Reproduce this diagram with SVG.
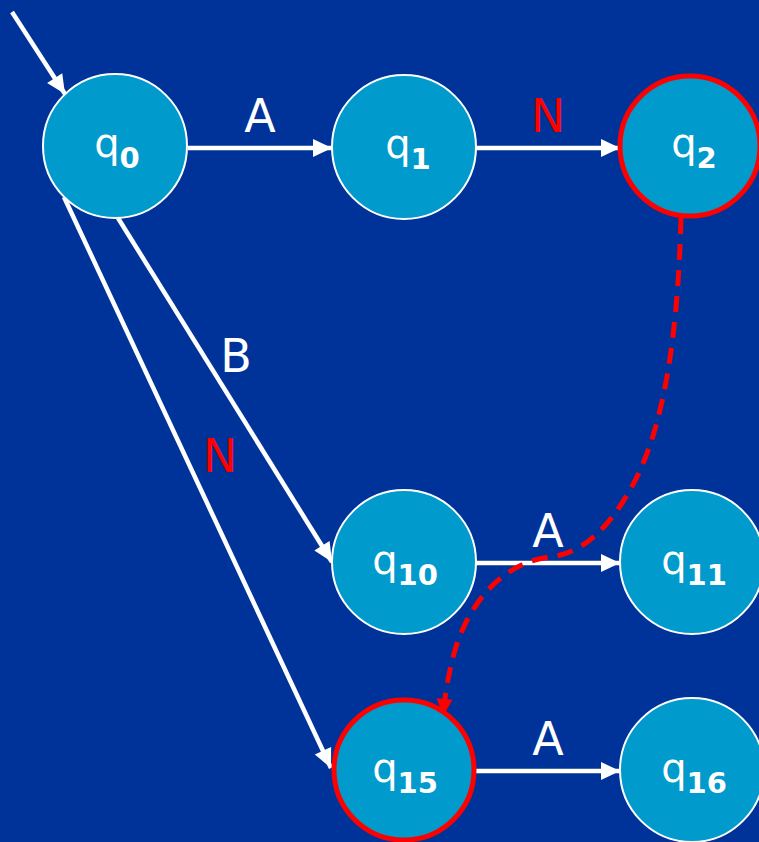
<svg xmlns="http://www.w3.org/2000/svg" width="759" height="842" viewBox="0 0 759 842">
<style>
.node{fill:#009acc;stroke:#ffffff;stroke-width:2}
.final{fill:#009acc;stroke:#ff0000;stroke-width:5}
.lbl{font-family:"DejaVu Sans","Liberation Sans",sans-serif;font-size:40px;fill:#ffffff;text-anchor:middle}
.sub{font-weight:bold;font-size:29px}
.edge{stroke:#ffffff;stroke-width:4.5;fill:none}
.dash{stroke:#ff0000;stroke-width:5;fill:none;stroke-dasharray:16 10}
.el{font-family:"DejaVu Sans","Liberation Sans",sans-serif;font-size:46px;text-anchor:middle}
.w{fill:#ffffff}
.r{fill:#ff0000}
</style>
<defs>
<marker id="arr" markerUnits="userSpaceOnUse" markerWidth="20" markerHeight="18" refX="19" refY="9" orient="auto" overflow="visible">
<path d="M0,0 L19,9 L0,18 Z" fill="#ffffff"/>
</marker>
<marker id="arrR" markerUnits="userSpaceOnUse" markerWidth="18" markerHeight="16" refX="17" refY="8" orient="auto" overflow="visible">
<path d="M0,0 L17,8 L0,16 Z" fill="#ff0000"/>
</marker>
</defs>
<rect width="759" height="842" fill="#003399"/>
<g id="connectors">
<line class="edge" x1="12" y1="12" x2="65" y2="94" marker-end="url(#arr)"/>
<line class="edge" x1="188" y1="148" x2="332" y2="148" marker-end="url(#arr)"/>
<line class="edge" x1="476" y1="148" x2="620" y2="148" marker-end="url(#arr)"/>
<line class="edge" x1="118" y1="218" x2="332" y2="562" marker-end="url(#arr)"/>
<line class="edge" x1="64" y1="197" x2="331" y2="768" marker-end="url(#arr)"/>
<line class="edge" x1="476" y1="563" x2="620" y2="563" marker-end="url(#arr)"/>
<line class="edge" x1="476" y1="771" x2="620" y2="771" marker-end="url(#arr)"/>
<path class="dash" d="M681,218 C678,330 665,430 630,490 C610,525 585,553 550,557 C505,562 470,600 455,650 C448,675 445,695 443,716" marker-end="url(#arrR)"/>
<text class="el w" x="260" y="132">A</text>
<text class="el r" x="548" y="132">N</text>
<text class="el w" x="236" y="372">B</text>
<text class="el r" x="220" y="472">N</text>
<text class="el w" x="548" y="547">A</text>
<text class="el w" x="548" y="755">A</text>
</g>
<g id="q0"><circle class="node" cx="115" cy="146" r="72"/><text class="lbl" x="117" y="157">q<tspan class="sub" dy="11">0</tspan></text></g>
<g id="q1"><circle class="node" cx="404" cy="147" r="72"/><text class="lbl" x="408" y="158">q<tspan class="sub" dy="11">1</tspan></text></g>
<g id="q2"><circle class="final" cx="690" cy="146" r="70"/><text class="lbl" x="694" y="157">q<tspan class="sub" dy="11">2</tspan></text></g>
<g id="q10"><circle class="node" cx="404" cy="562" r="72"/><text class="lbl" x="405" y="574">q<tspan class="sub" dy="11">10</tspan></text></g>
<g id="q11"><circle class="node" cx="692" cy="562" r="72"/><text class="lbl" x="694" y="574">q<tspan class="sub" dy="11">11</tspan></text></g>
<g id="q15"><circle class="final" cx="404" cy="770" r="70"/><text class="lbl" x="405" y="782">q<tspan class="sub" dy="11">15</tspan></text></g>
<g id="q16"><circle class="node" cx="692" cy="770" r="72"/><text class="lbl" x="694" y="782">q<tspan class="sub" dy="11">16</tspan></text></g>
</svg>
